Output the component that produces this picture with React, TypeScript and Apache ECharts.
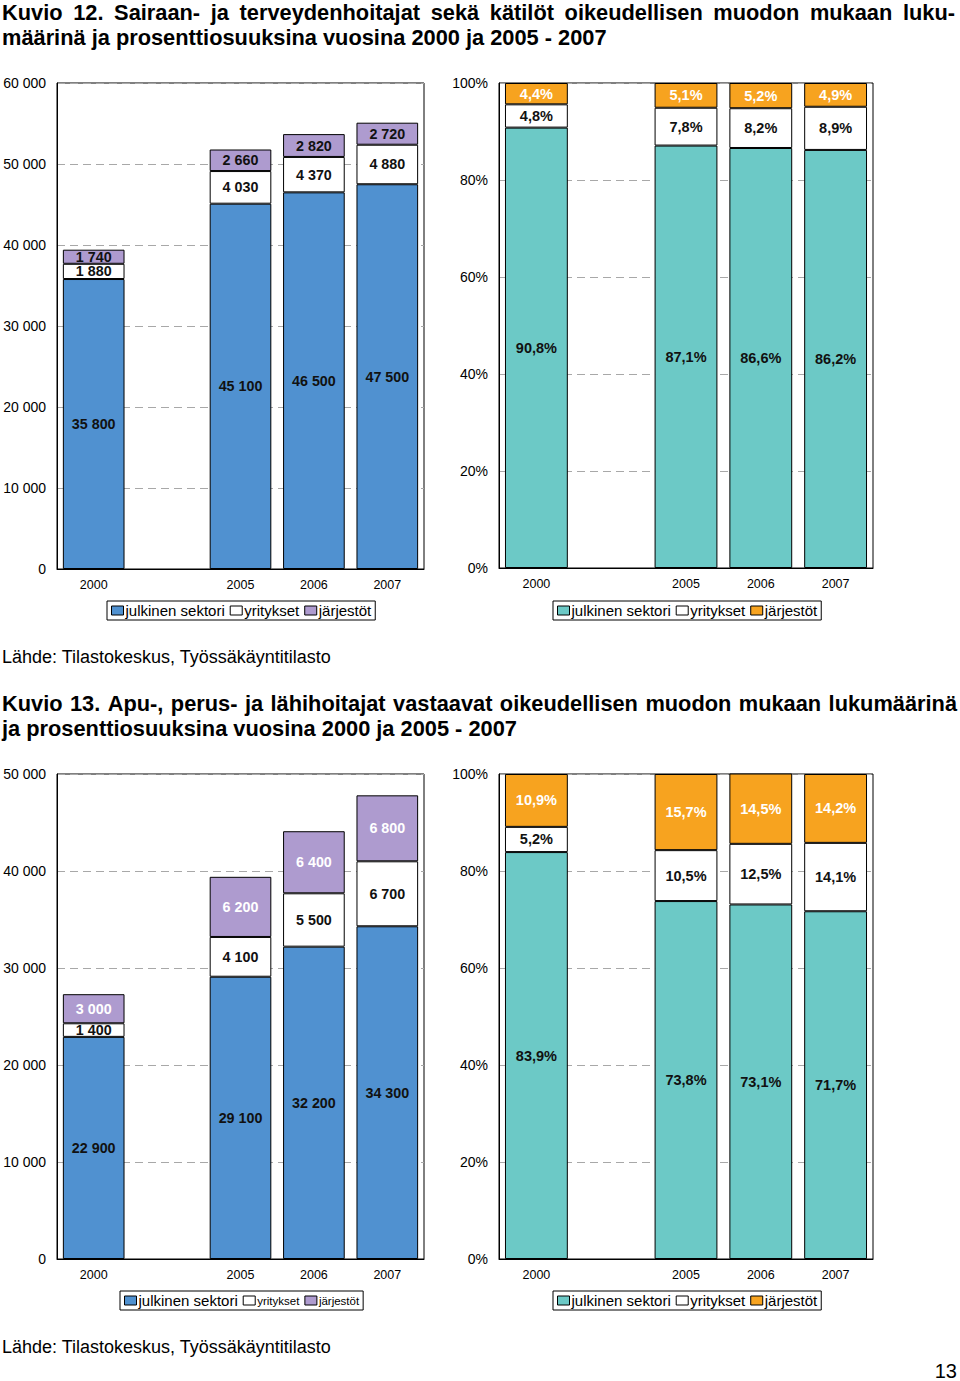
import React, { useEffect, useRef } from 'react';
import * as echarts from 'echarts';

// ---------- data ----------
const categories = ['2000', '', '2005', '2006', '2007'];
const seriesNames = ['julkinen sektori', 'yritykset', 'järjestöt'];

// Kuvio 12 – counts
const k12Public = [35800, null, 45100, 46500, 47500];
const k12Firms = [1880, null, 4030, 4370, 4880];
const k12Orgs = [1740, null, 2660, 2820, 2720];
// Kuvio 12 – shares (%)
const k12PublicPct = [90.8, null, 87.1, 86.6, 86.2];
const k12FirmsPct = [4.8, null, 7.8, 8.2, 8.9];
const k12OrgsPct = [4.4, null, 5.1, 5.2, 4.9];

// Kuvio 13 – counts
const k13Public = [22900, null, 29100, 32200, 34300];
const k13Firms = [1400, null, 4100, 5500, 6700];
const k13Orgs = [3000, null, 6200, 6400, 6800];
// Kuvio 13 – shares (%)
const k13PublicPct = [83.9, null, 73.8, 73.1, 71.7];
const k13FirmsPct = [5.2, null, 10.5, 12.5, 14.1];
const k13OrgsPct = [10.9, null, 15.7, 14.5, 14.2];

// axis ranges
const k12CountMax = 60000;
const k13CountMax = 50000;
const countInterval = 10000;
const pctMax = 100;
const pctInterval = 20;

const title12a = 'Kuvio 12. Sairaan- ja terveydenhoitajat sekä kätilöt oikeudellisen muodon mukaan luku-';
const title12b = 'määrinä ja prosenttiosuuksina vuosina 2000 ja 2005 - 2007';
const title13a = 'Kuvio 13. Apu-, perus- ja lähihoitajat vastaavat oikeudellisen muodon mukaan lukumäärinä';
const title13b = 'ja prosenttiosuuksina vuosina 2000 ja 2005 - 2007';
const sourceText = 'Lähde: Tilastokeskus, Työssäkäyntitilasto';
const pageNumber = '13';

// ---------- styles ----------
const FONT = '"Liberation Sans", Arial, Helvetica, sans-serif';
const BLUE = '#5091d0';
const TEAL = '#6cc9c6';
const PURPLE = '#ae9bcf';
const ORANGE = '#f7a31f';
const WHITE = '#ffffff';
const DARK = '#111111';
const TITLE_SIZE = 21.8;

const thousands = (v: number) => String(v).replace(/\B(?=(\d{3})+(?!\d))/g, ' ');
const pct = (v: number) => v.toFixed(1).replace('.', ',') + '%';

function measure(text: string, font: string) {
  const c = document.createElement('canvas').getContext('2d');
  if (!c) return text.length * 10;
  c.font = font;
  return c.measureText(text).width;
}

function justified(text: string, x0: number, x1: number, y: number, size: number) {
  const words = text.split(' ');
  const font = `bold ${size}px "Liberation Sans"`;
  const widths = words.map((w) => measure(w, font));
  const total = widths.reduce((a, b) => a + b, 0);
  const gap = (x1 - x0 - total) / (words.length - 1);
  let x = x0;
  return words.map((w, i) => {
    const el = {
      type: 'text',
      x,
      y,
      style: {
        text: w,
        font: `bold ${size}px ${FONT}`,
        fill: '#000',
        verticalAlign: 'middle',
        align: 'left',
      },
    };
    x += widths[i] + gap;
    return el;
  });
}

function plainText(text: string, x: number, y: number, size: number, bold = false, align = 'left') {
  return {
    type: 'text',
    x,
    y,
    style: {
      text,
      font: `${bold ? 'bold ' : ''}${size}px ${FONT}`,
      fill: '#000',
      verticalAlign: 'middle',
      align,
    },
  };
}

type Panel = {
  grid: { left: number; top: number; width: number; height: number };
  max: number;
  interval: number;
  fmt: (v: number) => string;
  data: (number | null)[][];
  colors: string[];
  labelColors: string[];
  labelSize: number;
  legendLeft: number;
  legendTop: number;
  legendSizes: number[];
};

const panels: Panel[] = [
  {
    grid: { left: 57, top: 83, width: 367, height: 486 },
    max: k12CountMax,
    interval: countInterval,
    fmt: thousands,
    data: [k12Public, k12Firms, k12Orgs],
    colors: [BLUE, WHITE, PURPLE],
    labelColors: [DARK, DARK, DARK],
    labelSize: 14.3,
    legendLeft: 107,
    legendTop: 601,
    legendSizes: [15, 15, 15],
  },
  {
    grid: { left: 499, top: 83, width: 374, height: 485 },
    max: pctMax,
    interval: pctInterval,
    fmt: pct,
    data: [k12PublicPct, k12FirmsPct, k12OrgsPct],
    colors: [TEAL, WHITE, ORANGE],
    labelColors: [DARK, DARK, WHITE],
    labelSize: 14.5,
    legendLeft: 553,
    legendTop: 601,
    legendSizes: [15, 15, 15],
  },
  {
    grid: { left: 57, top: 774, width: 367, height: 485 },
    max: k13CountMax,
    interval: countInterval,
    fmt: thousands,
    data: [k13Public, k13Firms, k13Orgs],
    colors: [BLUE, WHITE, PURPLE],
    labelColors: [DARK, DARK, WHITE],
    labelSize: 14.3,
    legendLeft: 120,
    legendTop: 1291,
    legendSizes: [15, 11.5, 11.5],
  },
  {
    grid: { left: 499, top: 774, width: 374, height: 485 },
    max: pctMax,
    interval: pctInterval,
    fmt: pct,
    data: [k13PublicPct, k13FirmsPct, k13OrgsPct],
    colors: [TEAL, WHITE, ORANGE],
    labelColors: [DARK, DARK, WHITE],
    labelSize: 14.5,
    legendLeft: 553,
    legendTop: 1291,
    legendSizes: [15, 15, 15],
  },
];

function buildOption() {
  const grid = panels.map((p) => ({
    ...p.grid,
    show: true,
    borderColor: '#000',
    borderWidth: 1,
    backgroundColor: 'transparent',
    containLabel: false,
  }));
  const xAxis = panels.map((_, i) => ({
    gridIndex: i,
    type: 'category',
    data: categories,
    axisLine: { show: true, lineStyle: { color: '#000', width: 1 } },
    axisTick: { show: false },
    axisLabel: { fontSize: 12.5, color: '#000', margin: 9, fontFamily: FONT, interval: 0 },
    splitLine: { show: false },
  }));
  const yAxis = panels.map((p, i) => ({
    gridIndex: i,
    type: 'value',
    min: 0,
    max: p.max,
    interval: p.interval,
    axisLine: { show: true, lineStyle: { color: '#000', width: 1 } },
    axisTick: { show: false },
    axisLabel: {
      fontSize: 14,
      color: '#000',
      margin: 11,
      fontFamily: FONT,
      formatter: (v: number) => (p.fmt === pct ? `${v}%` : thousands(v)),
    },
    splitLine: { show: true, lineStyle: { type: [8, 5], color: '#a8a8a8', width: 1 } },
  }));
  const series: any[] = [];
  panels.forEach((p, i) => {
    p.data.forEach((d, j) => {
      series.push({
        type: 'bar',
        name: seriesNames[j],
        xAxisIndex: i,
        yAxisIndex: i,
        stack: 'stack' + i,
        data: d,
        barCategoryGap: '16%',
        itemStyle: { color: p.colors[j], borderColor: '#000', borderWidth: 1 },
        label: {
          show: true,
          position: 'inside',
          color: p.labelColors[j],
          fontWeight: 'bold',
          fontSize: p.labelSize,
          fontFamily: FONT,
          formatter: (prm: any) => (prm.value == null ? '' : p.fmt(prm.value)),
        },
        emphasis: { disabled: true },
      });
    });
  });
  const legend = panels.map((p) => ({
    left: p.legendLeft,
    top: p.legendTop,
    orient: 'horizontal',
    icon: 'rect',
    itemWidth: 12,
    itemHeight: 9,
    itemGap: 5,
    padding: [2, 4, 2, 4],
    borderColor: '#000',
    borderWidth: 1,
    selectedMode: false,
    textStyle: { fontSize: 15, color: '#000', fontFamily: FONT },
    data: seriesNames.map((n, j) => ({
      name: n,
      itemStyle: { color: p.colors[j], borderColor: '#000', borderWidth: 1 },
      textStyle: { fontSize: p.legendSizes[j], color: '#000', fontFamily: FONT, padding: [0, 0, 0, -3] },
    })),
  }));

  const graphic = [
    ...justified(title12a, 2, 955, 12, TITLE_SIZE),
    plainText(title12b, 2, 37, TITLE_SIZE, true),
    plainText(sourceText, 2, 657, 18),
    ...justified(title13a, 2, 957, 703, TITLE_SIZE),
    plainText(title13b, 2, 728, TITLE_SIZE, true),
    plainText(sourceText, 2, 1347, 18),
    plainText(pageNumber, 957, 1371, 20, false, 'right'),
  ];

  return {
    animation: false,
    backgroundColor: '#fff',
    textStyle: { fontFamily: FONT },
    grid,
    xAxis,
    yAxis,
    series,
    legend,
    graphic,
    tooltip: { show: false },
  };
}

export default function App() {
  const ref = useRef<HTMLDivElement>(null);
  useEffect(() => {
    if (!ref.current) return;
    const chart = echarts.init(ref.current, undefined, { renderer: 'svg' });
    chart.setOption(buildOption() as any);
    return () => chart.dispose();
  }, []);
  return (
    <div
      ref={ref}
      style={{ position: 'absolute', left: 0, top: 0, width: 960, height: 1381, background: '#fff' }}
    />
  );
}
